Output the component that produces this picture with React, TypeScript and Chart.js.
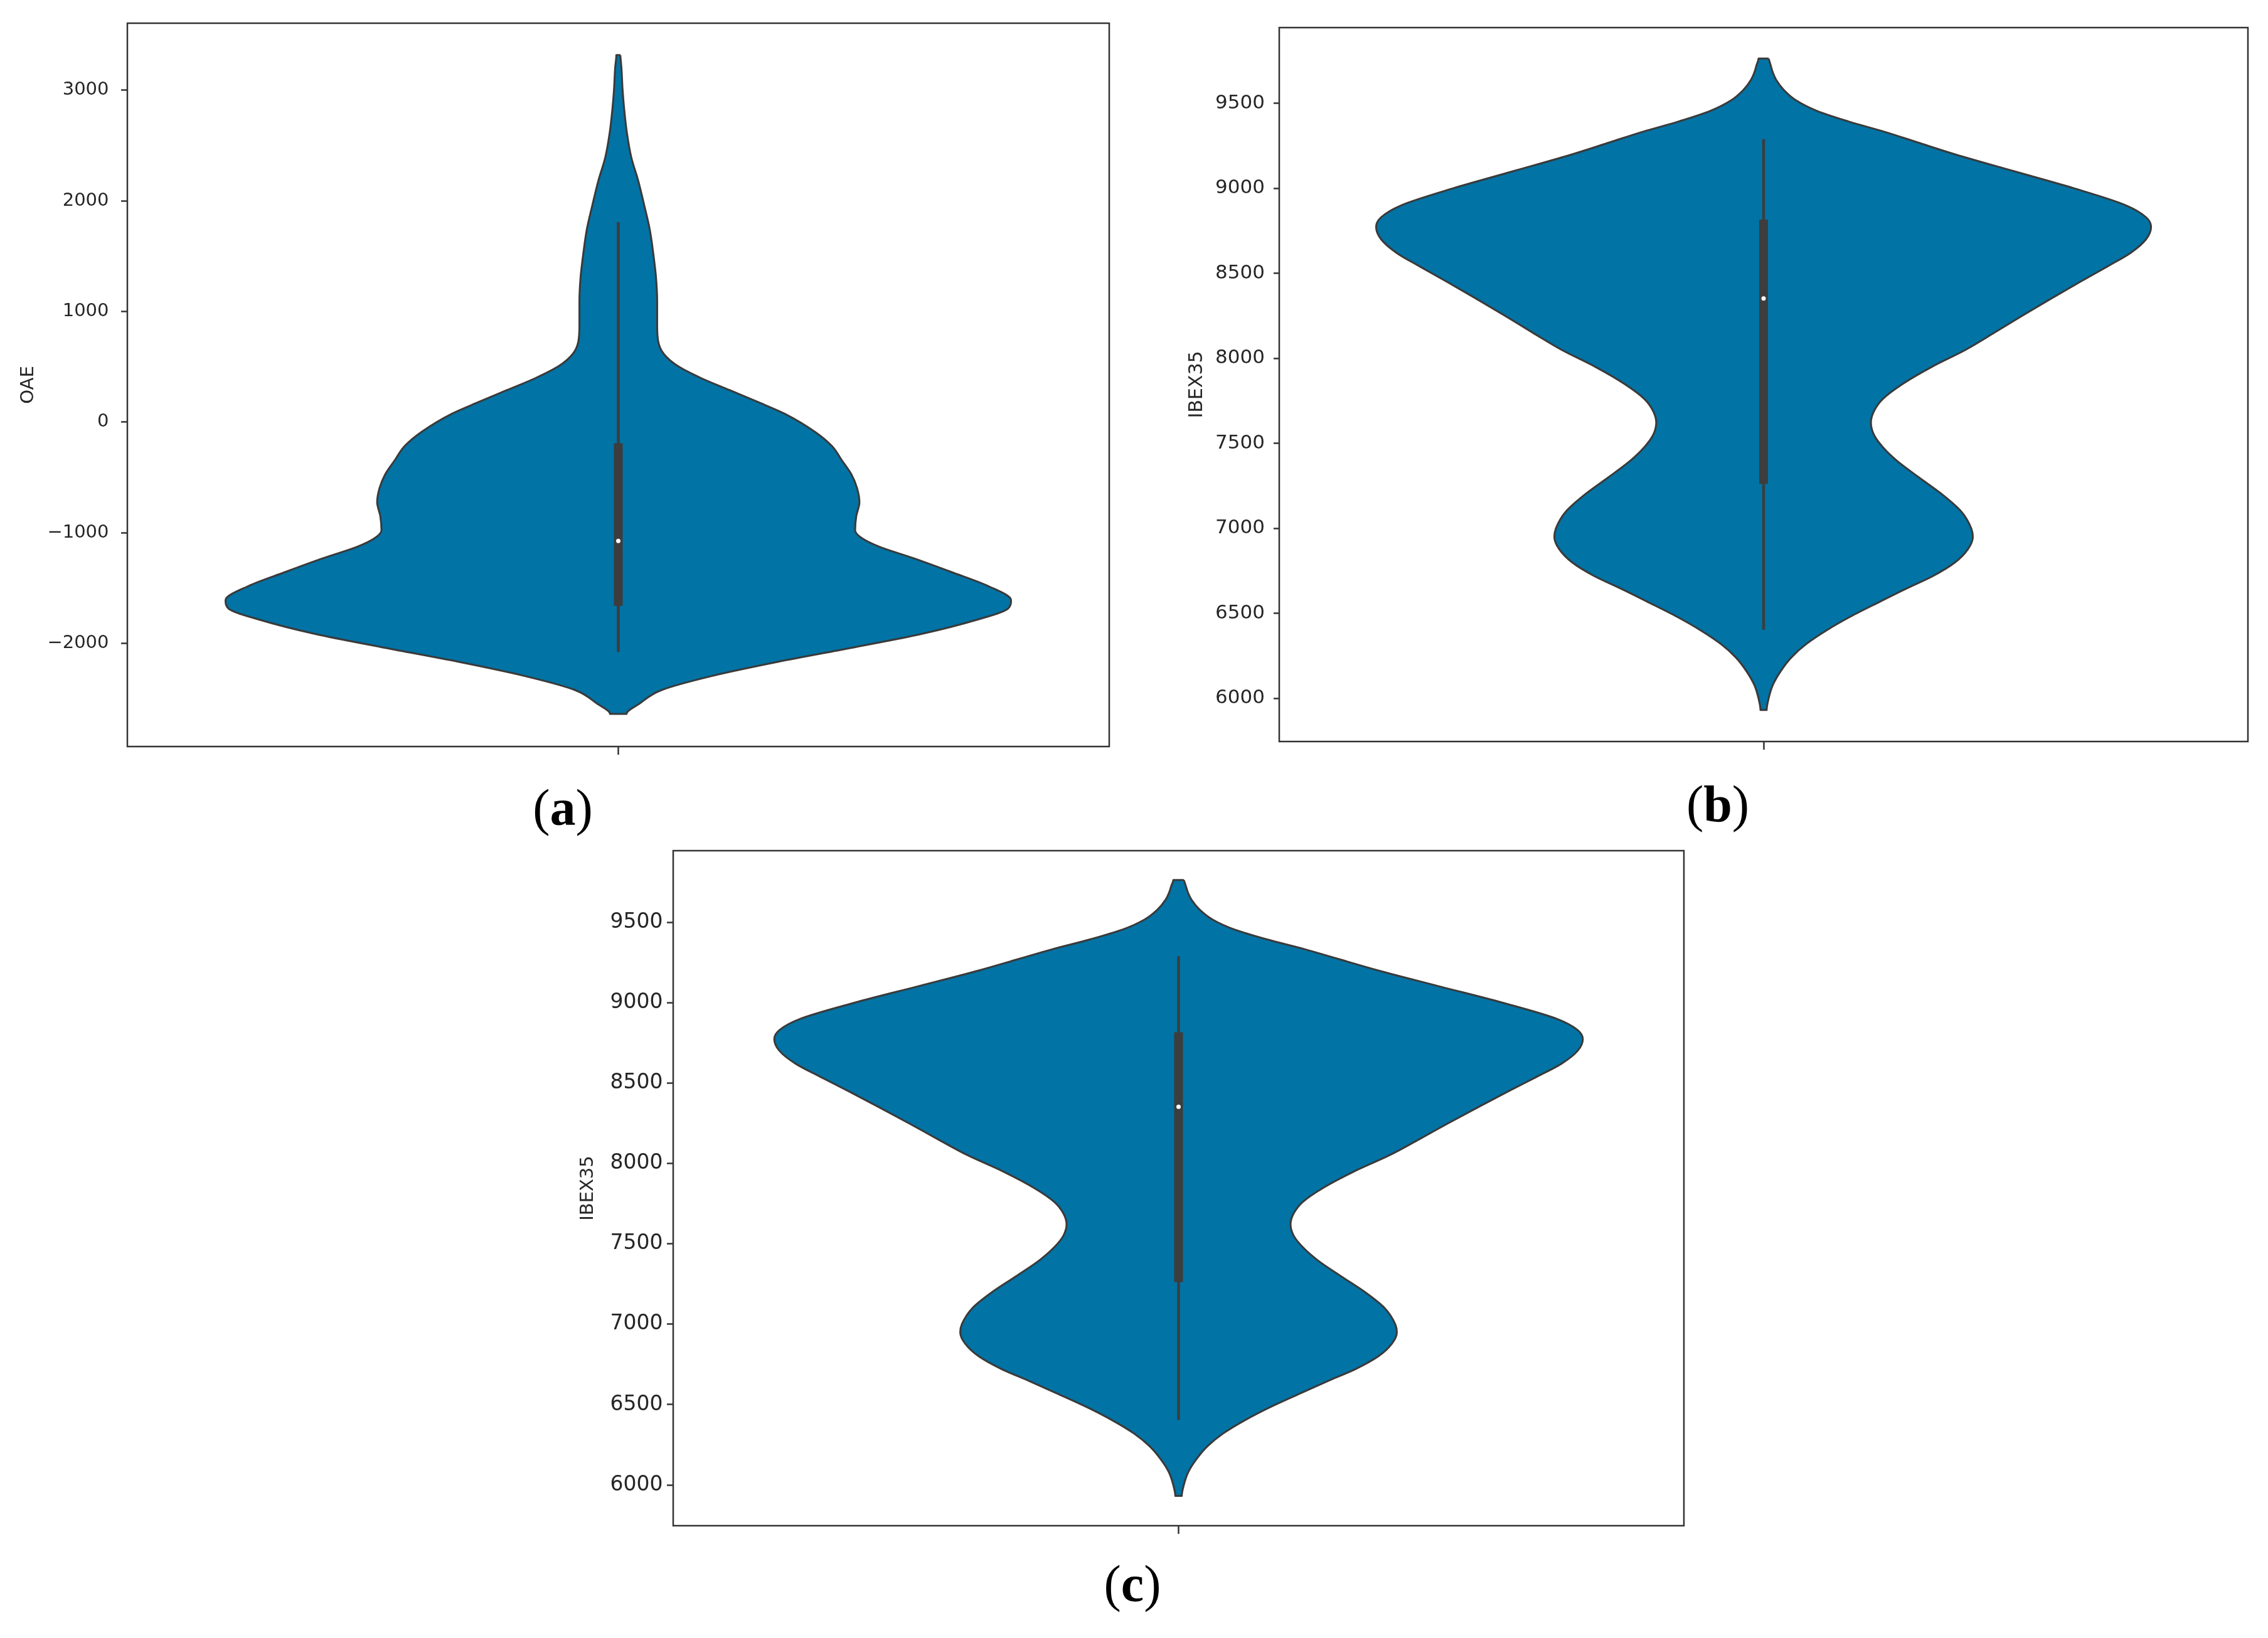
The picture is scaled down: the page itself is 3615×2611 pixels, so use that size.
import React, { useEffect, useRef } from "react";
import { Chart, registerables } from "chart.js";

Chart.register(...registerables);

// ---------------- DATA ----------------
// (a) OAE violin: y values (top -> bottom) and relative density (max = 1)
const OAE_VALUES = [
  3317, 3200, 3000, 2829, 2612, 2394, 2178, 1960, 1743, 1526, 1309, 1092, 876, 723, 616, 508, 398, 289, 180, 76,
  -88, -216, -343, -468, -596, -723, -848, -976, -1052, -1126, -1228, -1356, -1482, -1608, -1685, -1784,
  -1913, -2039, -2164, -2293, -2420, -2545, -2635,
];
const OAE_DENSITY = [
  0.005, 0.008, 0.011, 0.015, 0.022, 0.033, 0.051, 0.066, 0.08, 0.089, 0.096, 0.099, 0.099, 0.102, 0.116, 0.151,
  0.211, 0.284, 0.357, 0.424, 0.501, 0.544, 0.569, 0.593, 0.608, 0.614, 0.606, 0.603, 0.622, 0.665, 0.751,
  0.85, 0.943, 1.0, 0.992, 0.914, 0.772, 0.593, 0.408, 0.238, 0.11, 0.053, 0.021,
];
// whisker low, Q1, median, Q3, whisker high
const OAE_BOX = [-2077, -1659, -1072, -190, 1808];
const OAE_TICKS = [-2000, -1000, 0, 1000, 2000, 3000];
const OAE_RANGE = [-2930, 3604];

// (b), (c) IBEX35 violin
const IBEX_VALUES = [
  9763, 9726, 9680, 9640, 9579, 9517, 9455, 9394, 9333, 9271, 9200, 9100, 9000, 8900, 8830, 8774, 8700, 8620,
  8540, 8450, 8350, 8250, 8150, 8050, 7950, 7850, 7760, 7690, 7623, 7550, 7480, 7400, 7300, 7200, 7100, 7000,
  6950, 6880, 6800, 6720, 6650, 6570, 6480, 6400, 6320, 6240, 6160, 6080, 6000, 5932,
];
const IBEX_DENSITY = [
  0.013, 0.018, 0.024, 0.032, 0.052, 0.084, 0.138, 0.218, 0.311, 0.396, 0.494, 0.647, 0.801, 0.935, 0.987, 1.0,
  0.987, 0.947, 0.887, 0.817, 0.741, 0.667, 0.595, 0.521, 0.434, 0.359, 0.307, 0.285, 0.277, 0.285, 0.307,
  0.343, 0.401, 0.461, 0.51, 0.536, 0.54, 0.528, 0.494, 0.437, 0.372, 0.301, 0.223, 0.162, 0.11, 0.071, 0.044,
  0.024, 0.013, 0.008,
];
const IBEX_BOX = [6405, 7262, 8352, 8816, 9289];
const IBEX_TICKS = [6000, 6500, 7000, 7500, 8000, 8500, 9000, 9500];
const IBEX_RANGE = [5747, 9945];

const CATEGORY = [0];
const PANEL_LABELS = ["a", "b", "c"];

// ---------------- STYLE ----------------
const HALF_WIDTH = 0.4;
const FILL = "#0173a5";
const EDGE = "#3a3a3a";
const BOX_COLOR = "#3d3d3d";
const AXIS = "#333333";
const TEXT = "#262626";
const FONT = "DejaVu Sans";

type PanelCfg = {
  left: number;
  top: number;
  width: number;
  height: number;
  axisWidth: number;
  padTop: number;
  padRight: number;
  xAxisHeight: number;
  title: string;
  titleSize: number;
  titleOffset: number;
  tickSize: number;
  tickPad: number;
  tickLen: number;
  values: number[];
  density: number[];
  box: number[];
  ticks: number[];
  range: number[];
};

const PANELS: PanelCfg[] = [
  {
    left: 0, top: 20, width: 1783, height: 1200, axisWidth: 203, padTop: 17, padRight: 15, xAxisHeight: 30,
    title: "OAE", titleSize: 29, titleOffset: 45, tickSize: 29, tickPad: 19.5, tickLen: 10,
    values: OAE_VALUES, density: OAE_DENSITY, box: OAE_BOX, ticks: OAE_TICKS, range: OAE_RANGE,
  },
  {
    left: 1868, top: 24, width: 1730, height: 1188, axisWidth: 171, padTop: 20, padRight: 15, xAxisHeight: 30,
    title: "IBEX35", titleSize: 30, titleOffset: 40, tickSize: 31, tickPad: 14, tickLen: 9,
    values: IBEX_VALUES, density: IBEX_DENSITY, box: IBEX_BOX, ticks: IBEX_TICKS, range: IBEX_RANGE,
  },
  {
    left: 897, top: 1335, width: 1802, height: 1127, axisWidth: 176, padTop: 21, padRight: 15, xAxisHeight: 30,
    title: "IBEX35", titleSize: 29, titleOffset: 40, tickSize: 33, tickPad: 6.5, tickLen: 10,
    values: IBEX_VALUES, density: IBEX_DENSITY, box: IBEX_BOX, ticks: IBEX_TICKS, range: IBEX_RANGE,
  },
];

const LABEL_POS = [
  { x: 897, y: 1295 },
  { x: 2738, y: 1289 },
  { x: 1805, y: 2532 },
];

const fmt = (v: number) => (v < 0 ? "\u2212" + Math.abs(v) : String(v));

const framePlugin = {
  id: "frame",
  afterDraw(chart: any) {
    const { ctx, chartArea } = chart;
    const { left, top, right, bottom } = chartArea;
    ctx.save();
    ctx.strokeStyle = AXIS;
    ctx.lineWidth = 2.5;
    ctx.strokeRect(left, top, right - left, bottom - top);
    ctx.restore();
  },
};

function makeChart(canvas: HTMLCanvasElement, cfg: PanelCfg) {
  const c = CATEGORY[0];
  const rightSide = cfg.values.map((v, i) => ({ x: c + HALF_WIDTH * cfg.density[i], y: v }));
  const leftSide = cfg.values.map((v, i) => ({ x: c - HALF_WIDTH * cfg.density[i], y: v })).reverse();
  const outline = [...rightSide, ...leftSide, rightSide[0]];
  const [wLo, q1, med, q3, wHi] = cfg.box;

  return new Chart(canvas, {
    type: "scatter",
    data: {
      datasets: [
        {
          label: "median",
          data: [{ x: c, y: med }],
          pointRadius: 3.5,
          pointBackgroundColor: "#ffffff",
          pointBorderWidth: 0,
          showLine: false,
          order: 1,
        } as any,
        {
          label: "iqr",
          data: [{ x: c, y: q3 }, { x: c, y: q1 }],
          showLine: true,
          borderColor: BOX_COLOR,
          borderWidth: 14,
          borderCapStyle: "butt",
          pointRadius: 0,
          fill: false,
          order: 2,
        },
        {
          label: "whisker",
          data: [{ x: c, y: wHi }, { x: c, y: wLo }],
          showLine: true,
          borderColor: BOX_COLOR,
          borderWidth: 4.5,
          borderCapStyle: "butt",
          pointRadius: 0,
          fill: false,
          order: 3,
        },
        {
          label: "violin",
          data: outline,
          showLine: true,
          fill: "shape",
          backgroundColor: FILL,
          borderColor: EDGE,
          borderWidth: 3,
          borderJoinStyle: "round",
          pointRadius: 0,
          cubicInterpolationMode: "monotone",
          indexAxis: "y",
          order: 4,
        },
      ],
    },
    options: {
      indexAxis: "y",
      responsive: false,
      animation: false,
      events: [],
      layout: { padding: { left: 0, top: cfg.padTop, right: cfg.padRight, bottom: 0 } },
      plugins: {
        legend: { display: false },
        tooltip: { enabled: false },
        title: { display: false },
      },
      scales: {
        x: {
          type: "linear",
          position: "bottom",
          min: -0.5,
          max: 0.5,
          afterBuildTicks: (s: any) => {
            s.ticks = CATEGORY.map((v) => ({ value: v }));
          },
          afterFit: (s: any) => {
            s.height = cfg.xAxisHeight;
            s.paddingLeft = 0;
            s.paddingRight = 0;
          },
          ticks: { display: false },
          grid: {
            display: true,
            drawOnChartArea: false,
            drawTicks: true,
            tickLength: 13,
            tickWidth: 2.5,
            tickColor: AXIS,
          },
          border: { display: false },
        },
        y: {
          type: "linear",
          position: "left",
          min: cfg.range[0],
          max: cfg.range[1],
          afterBuildTicks: (s: any) => {
            s.ticks = cfg.ticks.map((v) => ({ value: v }));
          },
          afterFit: (s: any) => {
            s.width = cfg.axisWidth;
            s.paddingTop = 0;
            s.paddingBottom = 0;
          },
          ticks: {
            padding: cfg.tickPad,
            color: TEXT,
            font: { family: FONT, size: cfg.tickSize },
            callback: (v: any) => fmt(Number(v)),
          },
          grid: {
            display: true,
            drawOnChartArea: false,
            drawTicks: true,
            tickLength: cfg.tickLen,
            tickWidth: 2.5,
            tickColor: AXIS,
          },
          border: { display: false },
          title: {
            display: true,
            text: cfg.title,
            color: TEXT,
            font: { family: FONT, size: cfg.titleSize },
            padding: { top: cfg.titleOffset - cfg.titleSize * 0.6, bottom: 0 },
          },
        },
      },
    } as any,
    plugins: [framePlugin],
  });
}

function Panel({ cfg }: { cfg: PanelCfg }) {
  const ref = useRef<HTMLCanvasElement | null>(null);
  useEffect(() => {
    if (!ref.current) return;
    const chart = makeChart(ref.current, cfg);
    return () => chart.destroy();
  }, [cfg]);
  return (
    <canvas
      ref={ref}
      width={cfg.width}
      height={cfg.height}
      style={{ position: "absolute", left: cfg.left, top: cfg.top, width: cfg.width, height: cfg.height, display: "block" }}
    />
  );
}

export default function App() {
  const labelSize = 82;
  return (
    <div
      style={{
        position: "absolute",
        left: 0,
        top: 0,
        width: 3615,
        height: 2611,
        background: "#ffffff",
        overflow: "hidden",
      }}
    >
      {PANELS.map((p, i) => (
        <Panel key={i} cfg={p} />
      ))}
      {PANEL_LABELS.map((l, i) => (
        <div
          key={l}
          style={{
            position: "absolute",
            left: LABEL_POS[i].x,
            top: LABEL_POS[i].y - labelSize * 0.59,
            transform: "translateX(-50%)",
            fontFamily: "'Liberation Serif', serif",
            fontSize: labelSize,
            lineHeight: `${labelSize}px`,
            whiteSpace: "nowrap",
            color: "#000",
          }}
        >
          (<b>{l}</b>)
        </div>
      ))}
    </div>
  );
}
